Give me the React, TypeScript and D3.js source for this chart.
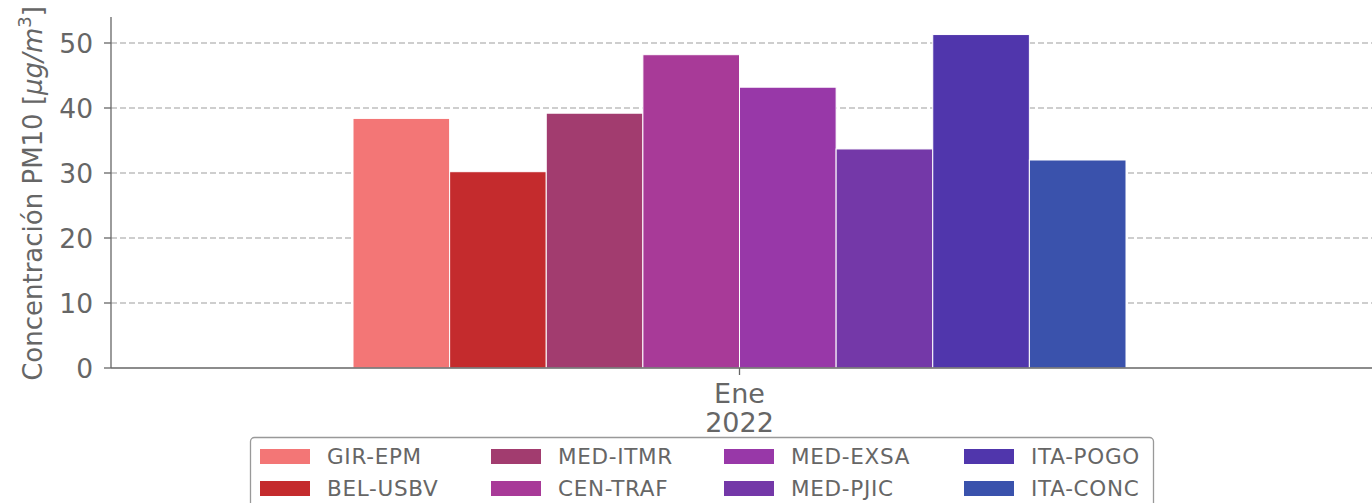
import React, { useRef, useEffect } from 'react';
import * as d3 from 'd3';

const stations = ['GIR-EPM', 'BEL-USBV', 'MED-ITMR', 'CEN-TRAF', 'MED-EXSA', 'MED-PJIC', 'ITA-POGO', 'ITA-CONC'];
const values = [38.4, 30.2, 39.2, 48.2, 43.2, 33.7, 51.3, 32.0];
const colorsList = ['#f37676', '#c42b2d', '#a23c6f', '#a83a98', '#9838a8', '#7438a8', '#5036ac', '#3a52ac'];
const yTicks = [0, 10, 20, 30, 40, 50];
const monthLabel = 'Ene';
const yearLabel = '2022';

const W = 1372;
const H = 503;

const App: React.FC = () => {
  const svgRef = useRef<SVGSVGElement | null>(null);

  useEffect(() => {
    if (!svgRef.current) return;
    const svg = d3.select(svgRef.current);
    svg.selectAll('*').remove();

    const margin = { top: 17, right: 0, bottom: 135, left: 111 };
    const innerW = W - margin.left - margin.right;
    const innerH = H - margin.top - margin.bottom;
    const text = '#666666';
    const font = 'DejaVu Sans, sans-serif';

    const g = svg.append('g').attr('transform', `translate(${margin.left},${margin.top})`);

    const y = d3.scaleLinear().domain([0, 54]).range([innerH, 0]);
    // bar group centred on the single month, 8 bars side by side
    const x = d3.scaleBand<string>()
      .domain(stations)
      .range([353 - margin.left, 1126 - margin.left])
      .paddingInner(0);
    const centre = (353 + 1126) / 2 - margin.left;

    // grid
    g.selectAll('line.grid')
      .data(yTicks.filter(t => t > 0))
      .enter().append('line')
      .attr('x1', 0).attr('x2', innerW)
      .attr('y1', d => y(d)).attr('y2', d => y(d))
      .attr('stroke', '#b0b0b0').attr('stroke-width', 1.3)
      .attr('stroke-dasharray', '6,3').attr('opacity', 0.8);

    // bars
    g.selectAll('rect.bar')
      .data(stations)
      .enter().append('rect')
      .attr('x', d => x(d)!)
      .attr('width', x.bandwidth())
      .attr('y', (d, i) => y(values[i]))
      .attr('height', (d, i) => innerH - y(values[i]))
      .attr('fill', (d, i) => colorsList[i])
      .attr('stroke', 'white').attr('stroke-width', 1);

    // spines
    g.append('line').attr('x1', 0).attr('x2', 0).attr('y1', 0).attr('y2', innerH)
      .attr('stroke', text).attr('stroke-width', 1.3);
    g.append('line').attr('x1', 0).attr('x2', innerW).attr('y1', innerH).attr('y2', innerH)
      .attr('stroke', text).attr('stroke-width', 1.3);

    // y ticks
    yTicks.forEach(t => {
      g.append('line').attr('x1', -7).attr('x2', 0).attr('y1', y(t)).attr('y2', y(t))
        .attr('stroke', text).attr('stroke-width', 1.3);
      g.append('text').attr('x', -18).attr('y', y(t)).attr('dy', '0.36em')
        .attr('text-anchor', 'end').attr('font-family', font).attr('font-size', 26.5)
        .attr('fill', text).text(String(t));
    });

    // x tick
    g.append('line').attr('x1', centre).attr('x2', centre).attr('y1', innerH).attr('y2', innerH + 7)
      .attr('stroke', text).attr('stroke-width', 1.3);
    g.append('text').attr('x', centre).attr('y', innerH + 35).attr('text-anchor', 'middle')
      .attr('font-family', font).attr('font-size', 27).attr('fill', text).text(monthLabel);
    g.append('text').attr('x', centre).attr('y', innerH + 64).attr('text-anchor', 'middle')
      .attr('font-family', font).attr('font-size', 27).attr('fill', text).text(yearLabel);

    // y label
    const yl = svg.append('text')
      .attr('transform', `translate(42,${margin.top + innerH / 2 + 1}) rotate(-90)`)
      .attr('text-anchor', 'middle').attr('font-family', font).attr('font-size', 26).attr('fill', text);
    yl.append('tspan').text('Concentración PM10 [');
    yl.append('tspan').attr('font-style', 'italic').text('μg/m');
    yl.append('tspan').attr('font-size', 18).attr('dy', -11).text('3');
    yl.append('tspan').attr('dy', 11).text(']');

    // legend
    const leg = svg.append('g');
    leg.append('rect').attr('x', 250.5).attr('y', 437.5).attr('width', 903).attr('height', 80)
      .attr('rx', 4).attr('fill', 'white').attr('stroke', '#999').attr('stroke-width', 1.3);
    const colX = [260, 491, 724, 964];
    const rowY = [456, 488];
    stations.forEach((s, i) => {
      const c = Math.floor(i / 2);
      const r = i % 2;
      leg.append('rect').attr('x', colX[c]).attr('y', rowY[r] - 7).attr('width', 50).attr('height', 15)
        .attr('fill', colorsList[i]);
      leg.append('text').attr('x', colX[c] + 67).attr('y', rowY[r]).attr('dy', '0.36em')
        .attr('font-family', font).attr('font-size', 21.5).attr('letter-spacing', 0.7)
        .attr('fill', text).text(s);
    });
  }, []);

  return <svg ref={svgRef} width={W} height={H} style={{ display: 'block', position: 'absolute', left: 0, top: 0 }} />;
};

export default App;
